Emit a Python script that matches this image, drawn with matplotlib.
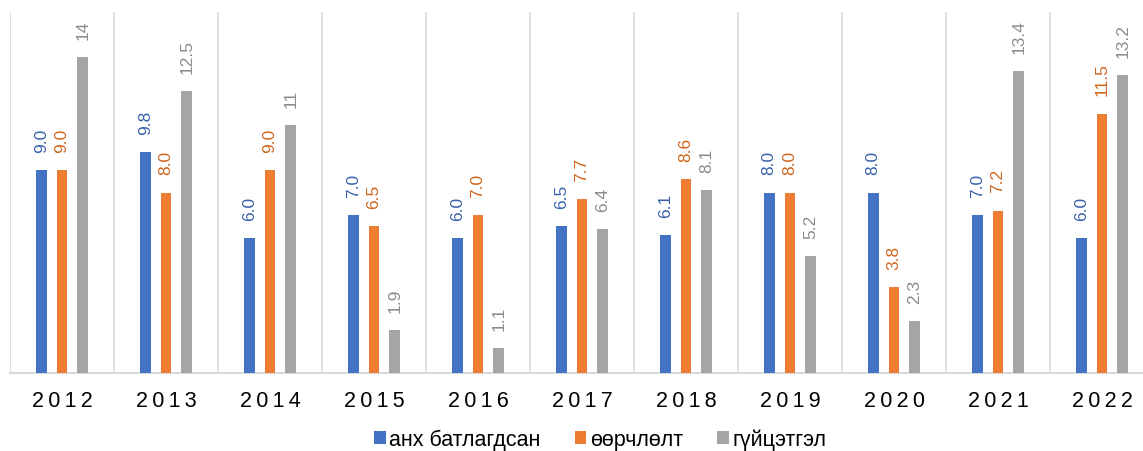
import matplotlib
matplotlib.use("Agg")
import matplotlib.pyplot as plt
import numpy as np

years = ["2012", "2013", "2014", "2015", "2016", "2017", "2018", "2019", "2020", "2021", "2022"]
anh = [9.0, 9.8, 6.0, 7.0, 6.0, 6.5, 6.1, 8.0, 8.0, 7.0, 6.0]
oorchlolt = [9.0, 8.0, 9.0, 6.5, 7.0, 7.7, 8.6, 8.0, 3.8, 7.2, 11.5]
guitsetgel = [14, 12.5, 11, 1.9, 1.1, 6.4, 8.1, 5.2, 2.3, 13.4, 13.2]
series_names = ["анх батлагдсан", "өөрчлөлт", "гүйцэтгэл"]

plt.rcParams['font.family'] = ['Liberation Sans', 'DejaVu Sans']

W, H = 1143, 452
fig = plt.figure(figsize=(W / 100, H / 100), dpi=100)
ax = fig.add_axes([10 / W, (H - 374) / H, (1154 - 10) / W, (374 - 13) / H])

x = np.arange(len(years))
bw = 0.105
off = 0.2
bar_cols = ["#4472C4", "#ED7D31", "#A5A5A5"]
lab_cols = ["#3A62AC", "#D0661E", "#8C8C8C"]
data = [anh, oorchlolt, guitsetgel]
fmts = [lambda v: f"{v:.1f}", lambda v: f"{v:.1f}", lambda v: f"{v:g}"]

for i, (vals, bc, lc, fm, name) in enumerate(zip(data, bar_cols, lab_cols, fmts, series_names)):
    xs = x + (i - 1) * off
    ax.bar(xs, vals, width=bw, color=bc, label=name, zorder=3)
    for xi, v in zip(xs, vals):
        ax.annotate(fm(v), (xi, v), xytext=(0, 13), textcoords="offset points",
                    rotation=90, ha="center", va="bottom", color=lc, fontsize=12.5)

for b in np.arange(-0.5, len(years) + 0.5, 1):
    ax.axvline(b, color="#D9D9D9", lw=1.2, zorder=1)

ax.set_xlim(-0.5, len(years) - 0.5)
ax.set_ylim(0, 16)
ax.set_yticks([])
ax.set_xticks(x)
ax.set_xticklabels(["\u2009".join(y) for y in years], fontsize=15.5, color="#000000")
ax.tick_params(axis="x", length=0, pad=12)
for s in ["top", "right", "left"]:
    ax.spines[s].set_visible(False)
ax.spines["bottom"].set_color("#D9D9D9")
ax.spines["bottom"].set_linewidth(1.5)

fig.legend(loc="center", bbox_to_anchor=(600 / W, (H - 440) / H), ncol=3, frameon=False,
           fontsize=15.5, handlelength=0.55, handleheight=0.55, handletextpad=0.15, columnspacing=1.6)

fig.savefig("out.png", dpi=100)
